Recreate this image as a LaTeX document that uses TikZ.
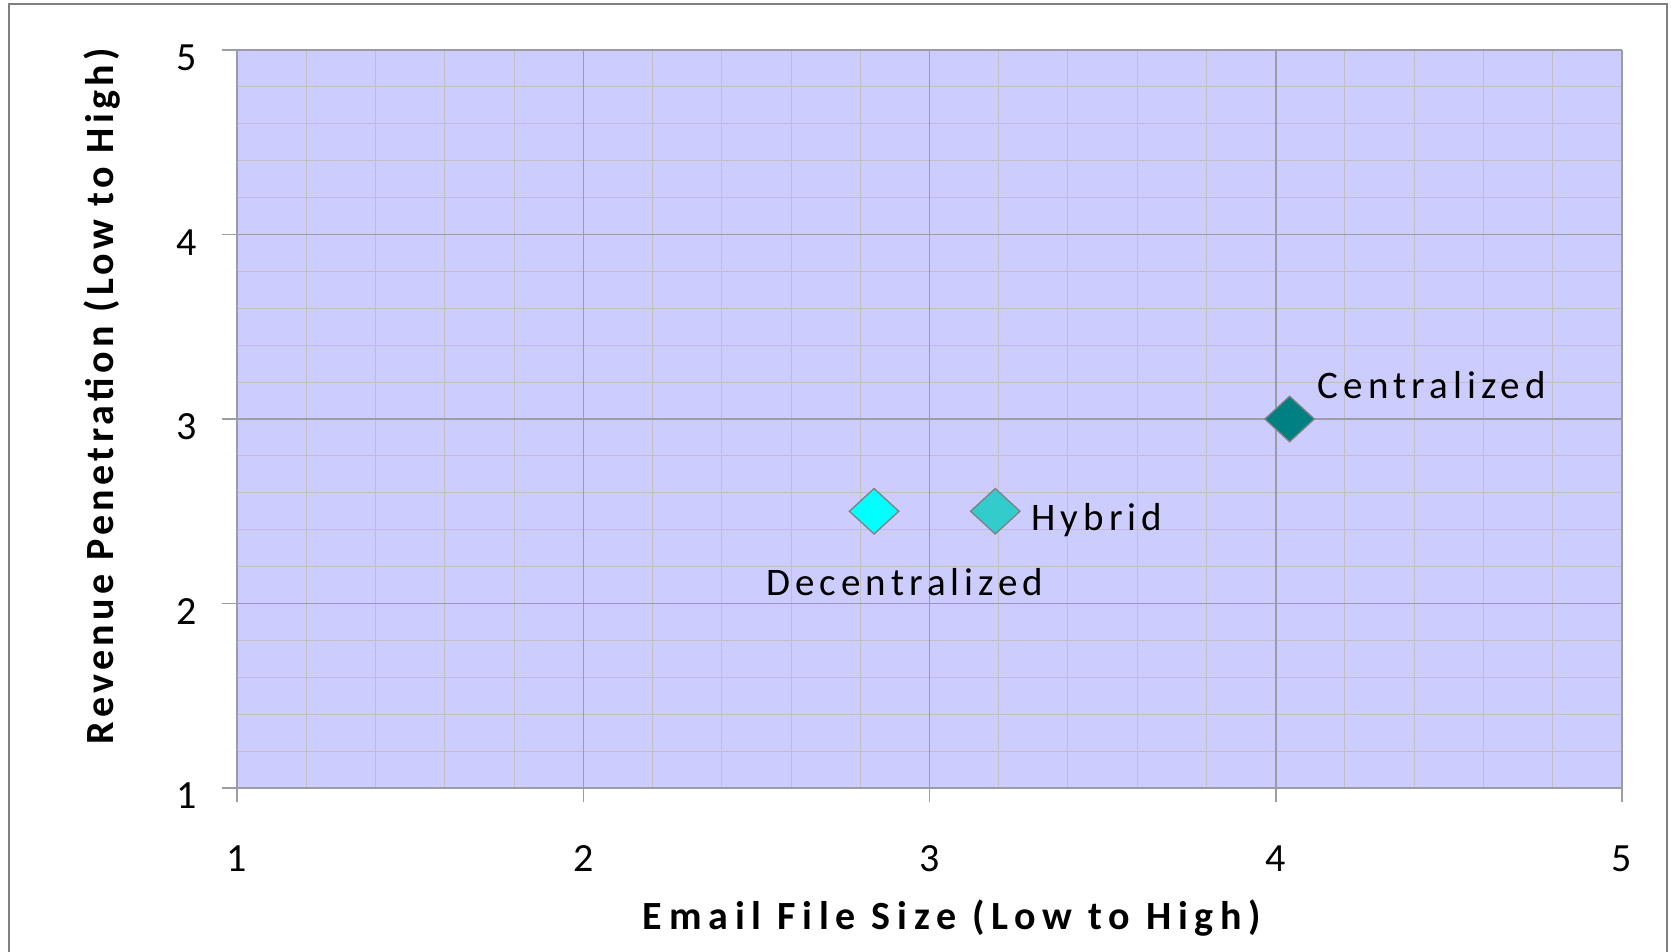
\documentclass[tikz,border=0pt]{standalone}
\usepackage{fontspec}
\setmainfont{Carlito}
\usetikzlibrary{shapes.geometric}

\definecolor{plotbg}{HTML}{CCCCFF}
\definecolor{minorgrid}{HTML}{C0C0C4}
\definecolor{majorgrid}{HTML}{9C9CA6}
\definecolor{decencol}{HTML}{00FFFF}
\definecolor{hybridcol}{HTML}{33CCCC}
\definecolor{cencol}{HTML}{008080}

\tikzset{
	datapt/.style={diamond,draw=gray,line width=1.3pt,minimum width=50pt,minimum height=46pt,inner sep=0pt},
	ptlabel/.style={inner sep=0pt,font=\fontsize{39}{46}\selectfont\addfontfeature{LetterSpace=13}},
	ticklabel/.style={inner sep=0pt,font=\fontsize{40}{48}\selectfont},
	axislabel/.style={inner sep=0pt,font=\fontsize{40}{48}\selectfont\bfseries}
}

\begin{document}
\begin{tikzpicture}[x=1pt,y=-1pt]
	
	\useasboundingbox (0,0) rectangle (1671,951);
	\draw [gray,line width=1.5pt] (9,4) rectangle (1667,970);
	
	\begin{scope}[shift={(-109.25pt,-972.5pt)},x=346.25pt,y=184.5pt]
		
		\fill [plotbg] (1,1) rectangle (5,5);
		
		\foreach \x in {1.2,1.4,...,4.9} {
			\draw [minorgrid,line width=1pt] (\x,1) -- (\x,5);
		}
		\foreach \y in {1.2,1.4,...,4.9} {
			\draw [minorgrid,line width=1pt] (1,\y) -- (5,\y);
		}
		\foreach \x in {2,...,5} {
			\draw [majorgrid,line width=1.5pt] (\x,1) -- (\x,5);
		}
		\foreach \y in {2,...,5} {
			\draw [majorgrid,line width=1.5pt] (1,\y) -- (5,\y);
		}
		\draw [majorgrid,line width=1.5pt] (1,5) -- (1,1) -- (5,1);
		
		\foreach \x in {1,...,5} {
			\draw [majorgrid,line width=1.5pt] (\x,1) -- ++(0,-14pt);
			\node [ticklabel] (xt\x) at ([yshift=-71pt]\x,1) {\x};
		}
		\foreach \y in {1,...,5} {
			\draw [majorgrid,line width=1.5pt] (1,\y) -- ++(-15pt,0);
			\node [ticklabel,anchor=east] (yt\y) at ([shift={(-40pt,-8pt)}]1,\y) {\y};
		}
		
		\node [datapt,fill=decencol] (decen) at (2.84,2.5) {};
		\node [datapt,fill=hybridcol] (hybrid) at (3.19,2.5) {};
		\node [datapt,fill=cencol] (cen) at (4.04,3) {};
		
		\node [ptlabel,anchor=base west] (decenlbl) at ([shift={(-108pt,-84pt)}]decen.center) {Decentralized};
		\node [ptlabel,anchor=base west] (hybridlbl) at ([shift={(36pt,-19pt)}]hybrid.center) {Hybrid};
		\node [ptlabel,anchor=base west] (cenlbl) at ([shift={(28pt,21pt)}]cen.center) {Centralized};
		
	\end{scope}
	
	\node [axislabel] (xlab) at (952,918) {\addfontfeature{LetterSpace=17}Email File Size (Low to High)};
	\node [axislabel,rotate=90] (ylab) at (102,396) {\addfontfeature{LetterSpace=11}Revenue Penetration (Low to High)};
	
\end{tikzpicture}
\end{document}
